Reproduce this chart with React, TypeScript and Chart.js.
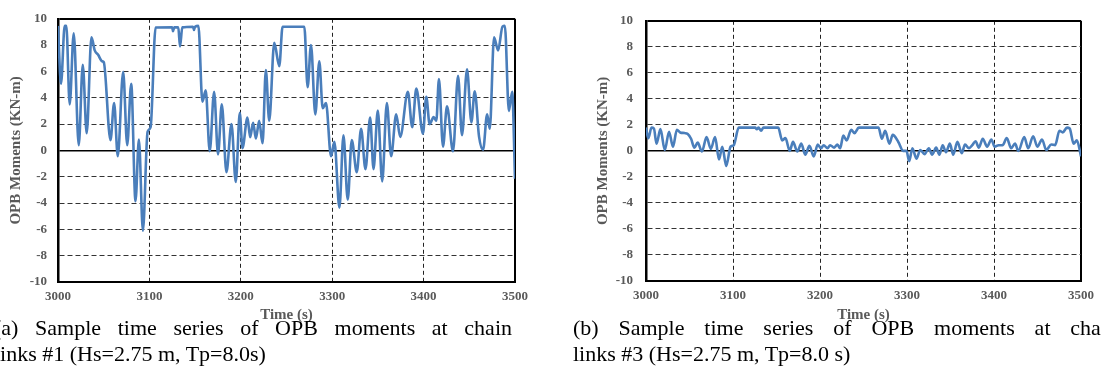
import React, { useEffect, useRef } from "react";
import { Chart, registerables } from "chart.js";

Chart.register(...registerables);

// ---------- data ----------
const timesA = [
  3000.0, 3003.3, 3007.3, 3009.1, 3012.8, 3017.2, 3022.7, 3027.1, 3031.4, 3036.6,
  3040.2, 3043.9, 3048.3, 3050.1, 3057.4, 3061.4, 3065.4, 3071.3, 3075.7, 3080.1,
  3084.8, 3088.5, 3092.9, 3098.0, 3101.3, 3106.8, 3125.0, 3125.8, 3127.2, 3131.6,
  3133.5, 3136.0, 3147.7, 3148.8, 3149.9, 3153.6, 3158.0, 3161.6, 3166.0, 3170.8,
  3175.1, 3179.2, 3184.3, 3189.8, 3194.5, 3198.9, 3201.8, 3207.3, 3210.2, 3213.5,
  3216.5, 3220.1, 3223.8, 3227.4, 3231.1, 3236.6, 3242.1, 3245.7, 3269.5, 3273.1,
  3276.8, 3281.5, 3285.9, 3289.6, 3293.2, 3298.7, 3302.4, 3307.9, 3312.3, 3317.0,
  3321.4, 3326.9, 3331.6, 3336.4, 3341.5, 3345.2, 3349.9, 3354.7, 3359.8, 3364.5,
  3370.0, 3374.4, 3382.8, 3387.6, 3392.0, 3399.3, 3402.9, 3406.6, 3411.0, 3413.9,
  3416.8, 3421.2, 3425.6, 3432.2, 3437.7, 3442.0, 3447.5, 3452.3, 3455.9, 3460.7,
  3465.1, 3469.5, 3472.4, 3477.1, 3481.5, 3486.3, 3488.9, 3493.3, 3496.9, 3500.0,
];
const valuesA = [
  9.46, 5.06, 9.46, 9.46, 3.5, 8.9, 0.4, 6.5, 1.3, 8.6,
  7.6, 7.26, 6.77, 6.7, 0.78, 3.6, -0.44, 5.97, 0.4, 5.06,
  -3.86, 0.83, -6.1, 1.4, 1.76, 9.34, 9.35, 9.05, 9.35, 9.35,
  7.9, 9.35, 9.4, 9.15, 9.4, 9.46, 3.7, 4.57, -0.07, 4.45,
  -0.3, 3.5, -1.66, 2.0, -2.4, 2.86, 0.17, 2.5, 1.0, 2.1,
  0.9, 2.25, 0.54, 6.1, 2.25, 8.17, 6.4, 9.4, 9.4, 4.8,
  8.0, 2.74, 6.77, 3.2, 3.6, -0.44, 0.66, -4.35, 1.15, -3.74,
  0.78, -1.66, 1.64, -1.42, 2.5, -1.42, 3.03, -2.35, 3.6, -0.44,
  2.74, 1.03, 4.45, 1.76, 4.7, 1.27, 4.08, 2.0, 2.54, 2.25,
  5.43, 0.29, 3.35, -0.07, 5.67, 1.15, 6.16, 2.13, 4.5, 1.03,
  0.05, 2.74, 1.64, 8.6, 7.6, 9.4, 9.46, 3.0, 4.45, -2.15,
];

const timesB = [
  3000.0, 3002.6, 3006.4, 3009.1, 3012.1, 3016.6, 3021.6, 3026.5, 3031.0, 3035.5,
  3039.3, 3044.2, 3048.0, 3051.8, 3055.6, 3059.4, 3064.3, 3069.6, 3074.5, 3079.4,
  3083.9, 3087.7, 3092.2, 3097.2, 3100.9, 3106.6, 3125.5, 3127.4, 3129.3, 3132.3,
  3135.0, 3152.0, 3156.5, 3160.3, 3165.2, 3169.0, 3173.9, 3178.5, 3183.0, 3187.9,
  3192.8, 3197.4, 3201.1, 3204.2, 3208.7, 3211.7, 3216.3, 3220.0, 3223.1, 3226.8,
  3230.6, 3235.9, 3239.7, 3244.6, 3267.3, 3271.1, 3274.9, 3279.8, 3283.6, 3290.0,
  3295.7, 3299.4, 3302.5, 3306.2, 3310.8, 3315.3, 3320.2, 3325.1, 3328.9, 3333.5,
  3337.2, 3341.0, 3344.8, 3349.3, 3353.1, 3358.0, 3362.9, 3366.7, 3371.3, 3375.0,
  3378.8, 3382.6, 3387.1, 3392.1, 3397.0, 3400.8, 3405.3, 3409.8, 3414.7, 3419.7,
  3424.2, 3428.0, 3434.8, 3439.3, 3445.0, 3449.9, 3455.2, 3460.1, 3465.8, 3470.3,
  3475.2, 3479.0, 3483.9, 3487.0, 3491.5, 3495.3, 3500.0,
];
const valuesB = [
  1.79, 0.98, 1.79, 1.72, 0.56, 1.67, 0.07, 1.47, 0.32, 1.62,
  1.42, 1.37, 1.3, 0.93, 0.25, 0.64, -0.05, 1.06, 0.15, 1.06,
  -0.66, 0.32, -1.15, 0.32, 0.44, 1.79, 1.79, 1.67, 1.79, 1.55,
  1.79, 1.79, 0.81, 0.98, 0.0, 0.69, -0.05, 0.56, -0.29, 0.39,
  -0.42, 0.49, 0.2, 0.44, 0.2, 0.44, 0.25, 0.49, 0.2, 1.18,
  0.81, 1.62, 1.37, 1.79, 1.79, 0.93, 1.55, 0.56, 1.23, 0.69,
  0.0, 0.0, -0.79, 0.2, -0.59, 0.07, -0.25, 0.2, -0.29, 0.25,
  -0.29, 0.44, -0.1, 0.56, -0.29, 0.69, -0.17, 0.49, 0.2, 0.44,
  0.74, 0.25, 0.93, 0.32, 0.88, 0.32, 0.44, 0.44, 0.98, 0.2,
  0.56, 0.0, 1.06, 0.2, 1.13, 0.32, 0.88, 0.07, 0.49, 0.44,
  1.55, 1.42, 1.79, 1.72, 0.56, 0.81, -0.42,
];

const xTickValues = [3000, 3100, 3200, 3300, 3400, 3500];
const yTickValues = [-10, -8, -6, -4, -2, 0, 2, 4, 6, 8, 10];

const xTitle = "Time (s)";
const yTitle = "OPB Moments (KN-m)";
const captionA1 = "(a) Sample time series of OPB moments at chain";
const captionA2 = "links #1 (Hs=2.75 m, Tp=8.0s)";
const captionB1 = "(b) Sample time series of OPB moments at chain";
const captionB2 = "links #3 (Hs=2.75 m, Tp=8.0 s)";

// ---------- styling ----------
const SERIF = "'Liberation Serif', 'Times New Roman', Times, serif";
const LINE_COLOR = "#4A7EBB";
const TEXT_GRAY = "#595959";

type Layout = {
  padLeft: number;
  padTop: number;
  padRight: number;
  padBottom: number;
  yWidth: number;
  xHeight: number;
  yTickPad: number;
};

function makeConfig(times: number[], values: number[], L: Layout): any {
  const xMin = xTickValues[0];
  const xMax = xTickValues[xTickValues.length - 1];
  const yMin = yTickValues[0];
  const yMax = yTickValues[yTickValues.length - 1];
  const isEdge = (v: number, a: number, b: number) => v === a || v === b;
  return {
    type: "line",
    data: {
      datasets: [
        {
          data: times.map((t, i) => ({ x: t, y: values[i] })),
          borderColor: LINE_COLOR,
          borderWidth: 2.6,
          pointRadius: 0,
          cubicInterpolationMode: "monotone",
          fill: false,
        },
      ],
    },
    options: {
      animation: false,
      responsive: false,
      layout: {
        padding: { left: L.padLeft, top: L.padTop, right: L.padRight, bottom: L.padBottom },
      },
      plugins: { legend: { display: false }, tooltip: { enabled: false } },
      scales: {
        x: {
          type: "linear",
          min: xMin,
          max: xMax,
          afterFit: (s: any) => {
            s.height = L.xHeight;
          },
          afterBuildTicks: (s: any) => {
            s.ticks = xTickValues.map((v) => ({ value: v }));
          },
          ticks: {
            padding: 7,
            color: TEXT_GRAY,
            font: { family: SERIF, weight: "bold", size: 13 },
            maxRotation: 0,
            callback: (v: any) => String(v),
          },
          grid: {
            drawTicks: false,
            color: (c: any) => (c.tick && isEdge(c.tick.value, xMin, xMax) ? "#000" : "#222"),
            lineWidth: (c: any) => (c.tick && isEdge(c.tick.value, xMin, xMax) ? 2 : 1),
          },
          border: {
            display: true,
            color: "#000",
            width: 2,
            dash: (c: any) => (c.tick && !isEdge(c.tick.value, xMin, xMax) ? [4, 3] : []),
          },
          title: {
            display: true,
            text: xTitle,
            color: TEXT_GRAY,
            font: { family: SERIF, weight: "bold", size: 15 },
            padding: { top: 4, bottom: 4 },
          },
        },
        y: {
          type: "linear",
          min: yMin,
          max: yMax,
          afterFit: (s: any) => {
            s.width = L.yWidth;
          },
          afterBuildTicks: (s: any) => {
            s.ticks = yTickValues.map((v) => ({ value: v }));
          },
          ticks: {
            padding: L.yTickPad,
            color: TEXT_GRAY,
            font: { family: SERIF, weight: "bold", size: 13 },
            callback: (v: any) => String(v),
          },
          grid: {
            drawTicks: false,
            color: (c: any) =>
              c.tick && (c.tick.value === 0 || isEdge(c.tick.value, yMin, yMax)) ? "#000" : "#333",
            lineWidth: (c: any) =>
              c.tick && isEdge(c.tick.value, yMin, yMax) ? 2 : c.tick && c.tick.value === 0 ? 1.6 : 1,
          },
          border: {
            display: true,
            color: "#000",
            width: 2.5,
            dash: (c: any) =>
              c.tick && c.tick.value !== 0 && !isEdge(c.tick.value, yMin, yMax) ? [5, 3] : [],
          },
          title: {
            display: true,
            text: yTitle,
            color: TEXT_GRAY,
            font: { family: SERIF, weight: "bold", size: 15 },
            padding: { top: 4, bottom: 4 },
          },
        },
      },
    },
  };
}

function ChartBox(props: {
  times: number[];
  values: number[];
  left: number;
  top: number;
  width: number;
  height: number;
  layout: Layout;
}) {
  const ref = useRef<HTMLCanvasElement | null>(null);
  useEffect(() => {
    if (!ref.current) return;
    const chart = new Chart(ref.current, makeConfig(props.times, props.values, props.layout));
    return () => chart.destroy();
  }, []);
  return (
    <canvas
      ref={ref}
      width={props.width}
      height={props.height}
      style={{
        position: "absolute",
        left: props.left,
        top: props.top,
        width: props.width,
        height: props.height,
      }}
    />
  );
}

const captionStyle: React.CSSProperties = {
  position: "absolute",
  fontFamily: SERIF,
  fontSize: 22,
  lineHeight: "26px",
  color: "#000",
  whiteSpace: "nowrap",
};

export default function App() {
  return (
    <div
      style={{
        position: "absolute",
        left: 0,
        top: 0,
        width: 1101,
        height: 387,
        overflow: "hidden",
        background: "#fff",
      }}
    >
      <ChartBox
        times={timesA}
        values={valuesA}
        left={0}
        top={0}
        width={540}
        height={330}
        layout={{ padLeft: 3, padTop: 9, padRight: 25, padBottom: 2, yWidth: 55, xHeight: 46, yTickPad: 11 }}
      />
      <ChartBox
        times={timesB}
        values={valuesB}
        left={588}
        top={0}
        width={513}
        height={330}
        layout={{ padLeft: 2, padTop: 11, padRight: 15, padBottom: 2, yWidth: 56, xHeight: 47, yTickPad: 13 }}
      />
      <div style={{ ...captionStyle, left: -6, top: 315, width: 518 }}>
        <div style={{ textAlign: "justify", textAlignLast: "justify", whiteSpace: "normal" }}>
          {captionA1}
        </div>
        <div>{captionA2}</div>
      </div>
      <div style={{ ...captionStyle, left: 573, top: 315, width: 545 }}>
        <div style={{ textAlign: "justify", textAlignLast: "justify", whiteSpace: "normal" }}>
          {captionB1}
        </div>
        <div>{captionB2}</div>
      </div>
    </div>
  );
}
